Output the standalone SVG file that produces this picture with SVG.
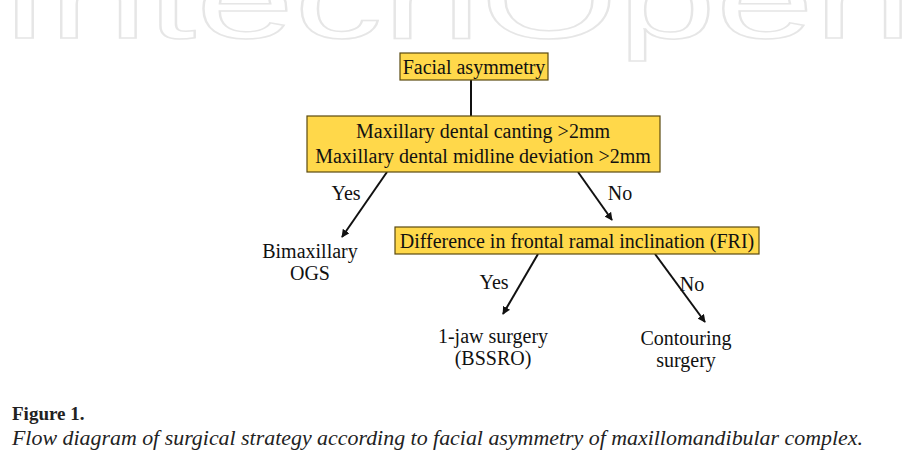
<svg xmlns="http://www.w3.org/2000/svg" width="912" height="466" viewBox="0 0 912 466">
<style>
.box{fill:#FFD84A;stroke:#5a4a10;stroke-width:1.2}
.t{font-family:'Liberation Serif','Times New Roman',serif;font-size:20px;fill:#111;text-anchor:middle}
.c{stroke:#111;stroke-width:2;fill:none}
.wm{font-family:'Liberation Sans',sans-serif;font-size:110px;fill:none;stroke:#e6e6e6;stroke-width:1.5}
</style>
<defs><marker id="ah" viewBox="0 0 10 10" refX="9" refY="5" markerWidth="4" markerHeight="4" orient="auto"><path d="M0,0L10,5L0,10z" fill="#111"/></marker></defs>
<rect width="912" height="466" fill="#fff"/>
<text class="wm" x="0" y="38" textLength="912" lengthAdjust="spacingAndGlyphs">IntechOpen</text>
<g id="connectors">
<line class="c" x1="471" y1="80" x2="471" y2="116"/>
<line class="c" x1="387" y1="172" x2="342" y2="237" marker-end="url(#ah)"/>
<line class="c" x1="578" y1="172" x2="612" y2="220" marker-end="url(#ah)"/>
<line class="c" x1="538" y1="254" x2="503" y2="314" marker-end="url(#ah)"/>
<line class="c" x1="655" y1="254" x2="705" y2="322" marker-end="url(#ah)"/>
</g>
<g id="n1"><rect class="box" x="400" y="53" width="148" height="27"/><text class="t" x="474" y="74">Facial asymmetry</text></g>
<g id="n2"><rect class="box" x="307" y="116" width="353" height="56"/><text class="t" x="483" y="138">Maxillary dental canting &gt;2mm</text><text class="t" x="483" y="163">Maxillary dental midline deviation &gt;2mm</text></g>
<g id="n3"><rect class="box" x="395" y="227" width="364" height="27"/><text class="t" x="577" y="248">Difference in frontal ramal inclination (FRI)</text></g>
<g id="n4"><text class="t" x="310" y="258">Bimaxillary</text><text class="t" x="310" y="280">OGS</text></g>
<g id="n5"><text class="t" x="493" y="343">1-jaw surgery</text><text class="t" x="493" y="365">(BSSRO)</text></g>
<g id="n6"><text class="t" x="686" y="345">Contouring</text><text class="t" x="686" y="367">surgery</text></g>
<g id="labels">
<text class="t" x="346" y="200">Yes</text><text class="t" x="620" y="200">No</text>
<text class="t" x="494" y="289">Yes</text><text class="t" x="692" y="291">No</text>
</g>
<text x="12" y="420" font-family="'Liberation Serif',serif" font-size="19" font-weight="bold" fill="#222">Figure 1.</text>
<text x="12" y="445" font-family="'Liberation Serif',serif" font-size="20" font-style="italic" fill="#222" textLength="851" lengthAdjust="spacingAndGlyphs">Flow diagram of surgical strategy according to facial asymmetry of maxillomandibular complex.</text>
</svg>
